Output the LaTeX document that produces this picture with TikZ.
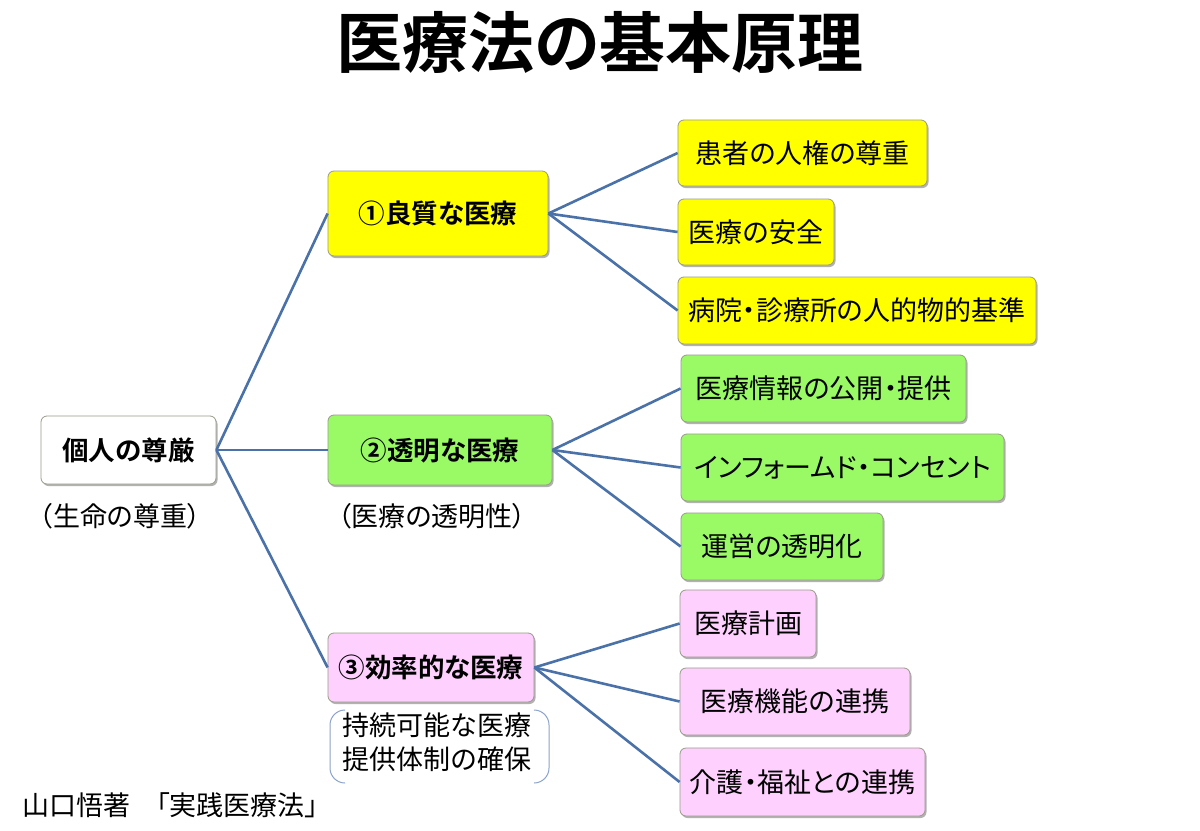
\documentclass[tikz,border=0pt]{standalone}
\usepackage{fontspec}
\setmainfont{Noto Sans CJK JP}[BoldFont={Noto Sans CJK JP Bold}, RawFeature=+palt]
\usetikzlibrary{shadows}
\definecolor{linkblue}{HTML}{4A72A8}
\definecolor{qyellow}{HTML}{FFFF00}
\definecolor{qgreen}{HTML}{99FA66}
\definecolor{qpink}{HTML}{FDD0FD}
\definecolor{bordergray}{HTML}{9A9A8A}
\definecolor{bracketblue}{HTML}{8DA3C9}
\newcommand{\fs}[1]{\fontsize{#1bp}{#1bp}\selectfont}
\tikzset{
  box/.style={draw=bordergray, line width=0.8bp, rounded corners=6bp, inner sep=0pt,
    minimum height=67bp, align=center, font=\fs{27},
    drop shadow={shadow xshift=1.5bp, shadow yshift=-2bp, opacity=0.3, fill=black}},
  midbox/.style={box, font=\bfseries\fs{26.5}},
  link/.style={draw=linkblue, line width=2.6bp},
  note/.style={inner sep=0pt, font=\fs{27}},
  bracket/.style={draw=bracketblue, line width=1bp, rounded corners=15bp},
}
\begin{document}
\begin{tikzpicture}[x=1bp,y=-1bp]
\useasboundingbox[fill=white] (0,0) rectangle (1200,831);
% title
\node[inner sep=0pt, font=\bfseries\fs{66}] (title) at (600,42) {医療法の基本原理};
% root
\node[midbox, fill=white, minimum width=175bp, minimum height=68bp] (root) at (128.5,450) {個人の尊厳};
\node[note] (rootnote) at (120,516) {（生命の尊重）};
% middle level
\node[midbox, fill=qyellow, minimum width=220bp, minimum height=85bp] (n1) at (438,213.5) {①良質な医療};
\node[midbox, fill=qgreen, minimum width=224bp, minimum height=70bp] (n2) at (440,450) {②透明な医療};
\node[note] (n2note) at (432,516) {（医療の透明性）};
\node[midbox, fill=qpink, minimum width=206bp, minimum height=69bp] (n3) at (431,667.5) {③効率的な医療};
\node[inner sep=0pt, align=center, font=\fs{27}] (n3note) at (437,742) {持続可能な医療\\[7bp]提供体制の確保};
% bracket around n3note
\draw[bracket] (345,710) -- (330,710) -- (330,783) -- (345,783);
\draw[bracket] (534,710) -- (549,710) -- (549,783) -- (534,783);
% right level
\node[box, fill=qyellow, minimum width=249bp, minimum height=66bp] (a1) at (802.5,153) {患者の人権の尊重};
\node[box, fill=qyellow, minimum width=156bp, minimum height=66bp] (a2) at (756,232) {医療の安全};
\node[box, fill=qyellow, minimum width=358bp] (a3) at (857,310.5) {病院・診療所の人的物的基準};
\node[box, fill=qgreen, minimum width=285bp] (b1) at (823.5,388.5) {医療情報の公開・提供};
\node[box, fill=qgreen, minimum width=323bp] (b2) at (842.5,467.5) {インフォームド・コンセント};
\node[box, fill=qgreen, minimum width=202bp] (b3) at (782,546.5) {運営の透明化};
\node[box, fill=qpink, minimum width=136bp] (c1) at (748,623.5) {医療計画};
\node[box, fill=qpink, minimum width=230bp] (c2) at (795,701.5) {医療機能の連携};
\node[box, fill=qpink, minimum width=245bp, minimum height=68bp] (c3) at (802.5,782) {介護・福祉との連携};
% connectors
\draw[link] (root.east) -- (n1.west);
\draw[link] (root.east) -- (n2.west);
\draw[link] (root.east) -- (n3.west);
\draw[link] (n1.east) -- (a1.west);
\draw[link] (n1.east) -- (a2.west);
\draw[link] (n1.east) -- (a3.west);
\draw[link] (n2.east) -- (b1.west);
\draw[link] (n2.east) -- (b2.west);
\draw[link] (n2.east) -- (b3.west);
\draw[link] (n3.east) -- (c1.west);
\draw[link] (n3.east) -- (c2.west);
\draw[link] (n3.east) -- (c3.west);
% credit
\node[inner sep=0pt, anchor=west, font=\fs{27}] (credit) at (22,805) {山口悟著\hspace*{26bp}「実践医療法」};
\end{tikzpicture}
\end{document}
